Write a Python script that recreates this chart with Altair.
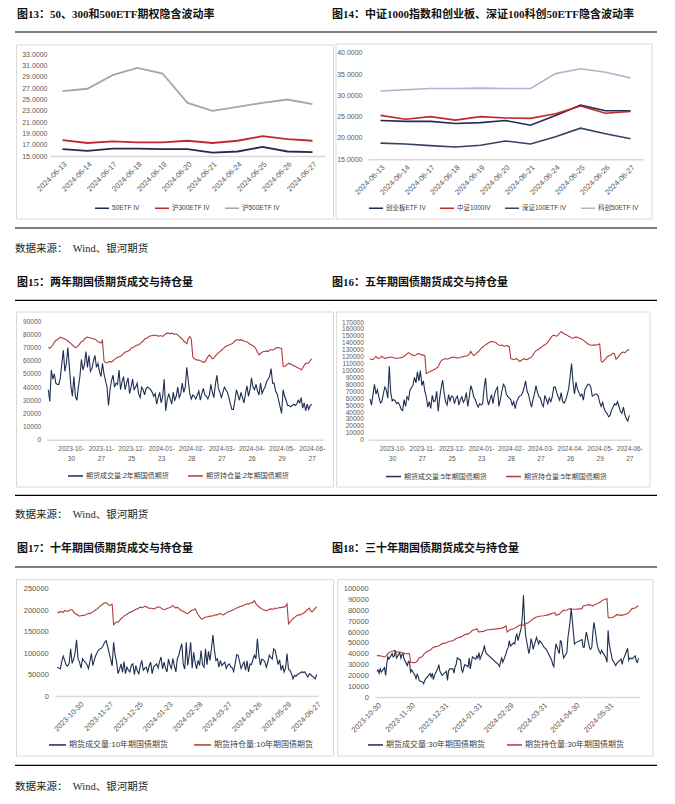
import json
import pandas as pd
import altair as alt

# ---------------- data ----------------
IV_DATES = ["2024-06-13", "2024-06-14", "2024-06-17", "2024-06-18", "2024-06-19", "2024-06-20",
            "2024-06-21", "2024-06-24", "2024-06-25", "2024-06-26", "2024-06-27"]
IV_50ETF = [16.2, 15.9, 16.3, 16.3, 16.2, 16.2, 15.6, 15.8, 16.6, 15.8, 15.7]
IV_300ETF = [17.8, 17.3, 17.6, 17.4, 17.4, 17.7, 17.3, 17.7, 18.5, 18.0, 17.7]
IV_500ETF = [26.5, 26.9, 29.3, 30.6, 29.6, 24.4, 23.0, 23.7, 24.4, 25.0, 24.2]

IV_CYB = [24.1, 23.9, 23.9, 23.4, 23.6, 24.1, 23.0, 25.3, 27.7, 26.4, 26.4]
IV_ZZ1000 = [25.3, 24.4, 25.0, 24.2, 25.0, 24.7, 24.6, 25.7, 27.5, 25.8, 26.25]
IV_SZ100 = [18.8, 18.6, 18.2, 17.9, 18.3, 19.3, 18.6, 20.3, 22.3, 21.0, 19.8]
IV_KC50 = [31.0, 31.3, 31.6, 31.6, 31.7, 31.6, 31.6, 35.1, 36.25, 35.4, 34.1]

# bond futures, thousands of lots, one value per trading day 2023-10-09 .. 2024-06-27
VOL2 = [38, 29, 53, 46, 50, 43, 42, 42, 47, 58, 68, 52, 58, 70, 55, 41, 33, 48, 33, 30,
        40, 48, 61, 53, 57, 67, 55, 64, 52, 54, 60, 64, 55, 58, 52, 48, 58, 50, 45, 40,
        26, 38, 45, 49, 40, 43, 42, 53, 38, 44, 48, 38, 43, 47, 35, 40, 46, 38, 40, 43,
        35, 32, 40, 38, 34, 39, 40, 39, 38, 36, 33, 35, 27, 32, 36, 28, 33, 46, 22, 30,
        35, 31, 27, 36, 30, 33, 40, 32, 35, 43, 36, 40, 55, 45, 35, 31, 34, 33, 31, 34,
        37, 30, 35, 39, 34, 33, 31, 34, 42, 36, 32, 42, 49, 39, 36, 32, 36, 40, 38, 36,
        32, 27, 23, 23, 30, 38, 34, 30, 36, 32, 28, 35, 41, 33, 38, 47, 40, 38, 42, 37,
        34, 43, 35, 38, 40, 44, 46, 48, 54, 43, 43, 37, 35, 30, 25, 20, 38, 33, 30, 26,
        26, 25, 26, 27, 26, 27, 30, 28, 32, 24, 28, 22, 27, 23, 26, 27]
OI2 = [70, 69.5, 70.5, 72, 74, 75.5, 76, 77, 78, 77.5, 77, 76.5, 76, 75, 74, 73, 72, 71, 70, 70.5,
       71.5, 73, 74.5, 75, 76.5, 77.5, 78, 77.5, 77.5, 77, 76.5, 76.5, 75.5, 74.5, 74, 73.5, 75.5, 60, 58.5, 58.5,
       59, 59.5, 59, 60, 61, 62, 62.5, 63, 63.5, 64.5, 65.5, 66.5, 67, 67.5, 68, 69.5, 70, 70.5, 71.5, 72,
       72, 73, 74, 75, 76.5, 77, 77.5, 78.5, 79, 79, 79.5, 79, 79.5, 78.5, 79, 79, 78.5, 79.5, 80.5, 81,
       81, 80.5, 81, 80.5, 80, 80.5, 79.5, 78.5, 77.5, 76.5, 75, 74, 73, 77, 78.5, 76.5, 63, 61.5, 61, 60.5,
       60.5, 60, 59.5, 59, 59, 61, 63, 64.5, 63, 61.5, 62, 63.5, 65, 66, 67, 68, 69, 70, 71, 71.5,
       72, 72.5, 73, 74, 75, 76, 76, 75.5, 76, 75.5, 75, 74.5, 74.5, 73.5, 72.5, 72, 71.5, 70.5, 69, 66.5,
       64.5, 65.5, 66.5, 67, 67, 67.5, 67, 68, 68.5, 68, 68.5, 69.5, 70, 70, 69.5, 69.5, 56, 55.5, 56.5, 57.5,
       58, 57.5, 57, 56, 56, 55, 54.5, 54, 53, 54.5, 56.5, 58, 58, 58.5, 60, 61.5]
VOL5 = [59, 50, 65, 80, 66, 72, 62, 53, 55, 66, 76, 72, 60, 106, 68, 56, 58, 56, 52, 54,
        50, 44, 42, 58, 48, 62, 58, 72, 75, 79, 90, 82, 98, 85, 100, 78, 85, 70, 62, 47,
        55, 45, 64, 55, 56, 70, 41, 60, 75, 86, 68, 55, 50, 65, 56, 63, 62, 52, 60, 63,
        50, 58, 62, 54, 58, 68, 48, 62, 78, 72, 62, 58, 52, 47, 52, 50, 52, 75, 89, 60,
        50, 58, 65, 52, 65, 72, 76, 48, 58, 70, 80, 77, 66, 62, 60, 58, 50, 55, 45, 55,
        60, 63, 64, 68, 75, 85, 70, 65, 55, 47, 58, 66, 78, 68, 62, 60, 52, 48, 64, 58,
        52, 60, 55, 62, 76, 76, 68, 62, 57, 68, 55, 53, 57, 64, 73, 90, 110, 83, 66, 83,
        73, 68, 63, 66, 57, 72, 76, 80, 80, 76, 63, 64, 66, 66, 63, 54, 48, 54, 45, 40,
        38, 33, 35, 43, 47, 52, 50, 55, 48, 41, 38, 47, 36, 30, 27, 35]
OI5 = [117, 116, 115.5, 118, 120.5, 118, 117, 118.5, 120.5, 119, 117, 118, 118.5, 119, 119.5, 119, 118, 118, 117.5, 118,
       118, 118.5, 119, 120.5, 122, 124, 125.8, 124, 123, 122, 121.5, 122.5, 124, 124.3, 123, 122, 122.5, 121.5, 95.5, 96.5,
       98, 99, 100, 101, 102, 103.5, 105, 110, 114, 115.5, 116.5, 117, 116.5, 117, 118, 118.5, 119.5, 119, 118.5, 118,
       118, 119, 119.5, 120, 120.5, 121, 121.5, 124, 127.5, 124, 121.5, 123, 125, 127, 129.5, 132, 133.5, 135.5, 137, 138.5,
       140, 141, 142, 141.5, 141, 140, 138, 136.5, 136, 137, 135.5, 135, 136, 135.5, 134, 117, 116.5, 115.5, 116.5, 117,
       115, 113, 114.5, 116, 117, 116, 115.5, 117, 118, 119.5, 122, 126, 128.5, 129.5, 131, 132.5, 134, 136, 137, 138.5,
       141, 144, 147, 150, 151, 150, 149.5, 151.5, 154, 156, 154.5, 153, 152, 151, 149.5, 148.5, 147, 146.5, 147.5, 148.5,
       148, 147, 146, 145, 143.5, 142, 140, 138.5, 137, 136.5, 136.5, 137, 136.5, 137, 137.5, 138.5, 113, 112, 114.5, 117,
       119.5, 121, 122, 123, 125, 124, 116.5, 118, 121, 124, 126, 126.5, 125.5, 128, 129.5, 130.5]
VOL10 = [67, 65, 63, 80, 93, 83, 72, 70, 76, 110, 76, 86, 100, 131, 87, 79, 65, 87, 82, 78,
         73, 64, 80, 99, 71, 84, 95, 102, 108, 110, 112, 118, 125, 129, 115, 100, 86, 70, 125, 95,
         79, 52, 62, 75, 55, 80, 52, 67, 60, 56, 72, 75, 50, 71, 58, 52, 70, 83, 60, 65,
         67, 56, 70, 79, 52, 68, 71, 75, 65, 80, 91, 63, 79, 65, 56, 86, 72, 64, 87, 70,
         56, 87, 95, 110, 122, 73, 63, 125, 71, 95, 125, 65, 102, 78, 63, 83, 71, 106, 73, 67,
         110, 73, 104, 83, 110, 142, 107, 83, 87, 67, 83, 71, 75, 79, 64, 72, 75, 68, 66, 57,
         75, 96, 95, 80, 64, 72, 79, 60, 82, 56, 75, 73, 85, 95, 87, 133, 95, 72, 86, 84,
         80, 67, 78, 95, 90, 86, 110, 106, 90, 73, 84, 60, 72, 56, 65, 99, 62, 60, 52, 40,
         48, 46, 50, 52, 54, 56, 55, 56, 50, 44, 52, 50, 46, 44, 40, 50]
OI10 = [196, 194, 197, 196, 195, 199, 198, 197, 199, 201, 201, 196, 192, 190, 188, 186, 187, 188, 187, 189,
        191, 192, 192, 194, 196, 198, 201, 203, 206, 210, 212, 215, 217, 217, 214, 211, 212, 214, 166, 170,
        173, 172, 176, 180, 183, 186, 189, 190, 193, 195, 196, 198, 200, 202, 203, 205, 207, 206, 207, 209,
        208, 206, 204, 205, 204, 203, 204, 206, 208, 207, 205, 203, 201, 202, 204, 205, 206, 208, 211, 207,
        205, 207, 204, 201, 199, 197, 195, 193, 192, 195, 198, 200, 201, 203, 196, 190, 185, 180, 179, 182,
        184, 184, 185, 186, 186, 187, 188, 189, 189, 191, 192, 190, 189, 191, 193, 196, 197, 198, 200, 201,
        203, 205, 206, 208, 209, 210, 212, 213, 215, 214, 216, 217, 218, 222, 215, 211, 208, 205, 203, 201,
        200, 199, 200, 202, 203, 202, 203, 205, 204, 205, 206, 206, 207, 207, 209, 215, 168, 172, 176, 180,
        183, 186, 188, 189, 189, 191, 193, 195, 199, 202, 205, 198, 196, 200, 204, 208]
# 30-year futures start 2023-10-30
VOL30 = [23.7, 25, 22, 26, 23, 27, 20, 30, 37, 35, 40, 37, 38, 43, 36, 41, 36, 39, 40, 35,
         29, 33, 32, 23, 25, 20, 17, 21, 19, 15, 14, 12.3, 15, 17, 18, 21.6, 18.5, 22, 16, 20,
         26, 30, 24, 22, 20, 23.7, 15.4, 24, 26, 26, 22, 28, 30, 36, 34, 25, 23, 27, 30, 28,
         36, 26, 32, 37, 35, 38, 36, 41, 35, 43, 47.7, 42, 40, 30, 28, 33, 36, 32, 40, 44,
         46, 52, 47, 50, 49, 56, 58, 52, 64, 75, 94, 70, 57, 40, 45, 54, 50, 44, 55, 52,
         49, 52, 51, 46, 45, 44, 34, 30, 28, 41, 49, 40, 52, 51, 42, 36, 41, 55, 62, 70,
         82, 49, 50, 53, 46, 46, 54, 60, 45, 44, 46, 60, 69, 48, 44, 42, 40, 43, 38, 36,
         32, 61.6, 49, 34, 33, 31, 29, 31, 35, 30, 35, 37, 45, 34, 36, 36, 35, 38, 33, 32, 36]
OI30 = [38.5, 38, 38.3, 38, 37.8, 37, 37.5, 38.5, 40, 41, 42.2, 42.5, 43.1, 42.5, 41.6, 41.5, 41.3, 41, 40.5, 40.3,
        40, 40.2, 40, 32.3, 31.8, 31.7, 32.2, 33, 34.5, 36, 37.5, 39.1, 40, 41, 42, 43.1, 44, 45.3, 45.8, 46.3,
        46.8, 47.3, 47.7, 48.5, 49.3, 50, 50.8, 51.1, 51.4, 52, 52.6, 53.3, 54, 54.5, 55.3, 55.8, 56.3, 57, 57.6, 58.3,
        58.9, 59.4, 60.5, 61.6, 62.4, 63.1, 61, 60, 60.3, 60.6, 61, 61.4, 61.8, 63.1, 63.3, 63.5, 63.6, 63.7, 65.6, 60,
        60.8, 61.6, 62.4, 63.1, 63.6, 64.1, 64.6, 65.7, 66.8, 66.5, 66.2, 67, 67.7, 68.8, 69.9, 70.7, 71.5, 72.3, 73.9, 74.1,
        74.4, 74.6, 74.8, 75, 75.2, 75.4, 77, 77.3, 77.6, 77.9, 75.4, 76.5, 77.5, 78.5, 79.2, 80, 80.4, 80.8, 81.2, 81.6,
        81.3, 81, 81, 81.6, 84, 84.3, 84.5, 84.7, 85.3, 85, 84.5, 84, 85, 86.2, 86.7, 87.2, 87.7, 88.8, 90.2, 90.5,
        90.8, 73.9, 73, 73.4, 73.9, 74.6, 75.3, 76, 75.4, 75.6, 75.8, 76, 77, 78, 79.1, 80.3, 81.6, 82.1, 83.1, 83.6, 84]

HOLIDAYS = ["2024-01-01", "2024-02-09", "2024-02-12", "2024-02-13", "2024-02-14", "2024-02-15",
            "2024-02-16", "2024-04-04", "2024-04-05", "2024-05-01", "2024-05-02", "2024-05-03", "2024-06-10"]
TICK_IDX = [15, 35, 55, 75, 95, 115, 135, 155, 175]
TICK_LABELS = ["2023-10-30", "2023-11-27", "2023-12-25", "2024-01-23", "2024-02-28",
               "2024-03-27", "2024-04-26", "2024-05-29", "2024-06-27"]
TICK30_LABELS = ["2023-10-30", "2023-11-30", "2023-12-31", "2024-01-31", "2024-02-29",
                 "2024-03-31", "2024-04-30", "2024-05-31"]

NAMES_A = ["50ETF IV", "沪300ETF IV", "沪500ETF IV"]
NAMES_B = ["创业板ETF IV", "中证1000IV", "深证100ETF IV", "科创50ETF IV"]
TITLES = ["图13：50、300和500ETF期权隐含波动率",
          "图14：中证1000指数和创业板、深证100科创50ETF隐含波动率",
          "图15：两年期国债期货成交与持仓量",
          "图16：五年期国债期货成交与持仓量",
          "图17：十年期国债期货成交与持仓量",
          "图18：三十年期国债期货成交与持仓量"]
SOURCE = "数据来源：\u00a0\u00a0Wind、银河期货"

# ---------------- styles ----------------
SANS = "Liberation Sans, Noto Sans CJK SC, sans-serif"
SERIF = "Liberation Serif, Noto Sans CJK SC, serif"
NAVY = "#1f2d50"
RED = "#c0282d"
DRED = "#b23a3a"
GREY = "#a6a6a6"
NAVY2 = "#34445f"
LBLUE = "#a9b8cd"
BOXC = "#d9d9d9"
AXC = "#d9d9d9"
LABC = "#595959"
LEGC = "#404040"

trade_days = [d for d in pd.bdate_range("2023-10-09", "2024-06-27")
              if d.strftime("%Y-%m-%d") not in HOLIDAYS]
base30 = pd.Timestamp("2023-10-30")
D30 = [(d - base30).days for d in trade_days[-len(VOL30):]]
TICK30_D = [(pd.Timestamp(s) - base30).days for s in TICK30_LABELS]

ONE = pd.DataFrame({"k": [0]})


def deco(W, H, title, tx, ty, rx0, rx1, rtop, rbot, box, src=None):
    b = alt.Chart(ONE)
    out = [
        b.mark_rect(opacity=0).encode(x=alt.value(0), x2=alt.value(W), y=alt.value(0), y2=alt.value(H)),
        b.mark_rect(fillOpacity=0, stroke=BOXC, strokeWidth=1).encode(
            x=alt.value(box[0]), x2=alt.value(box[1]), y=alt.value(box[2]), y2=alt.value(box[3])),
        b.mark_rule(color="#000000", strokeWidth=1.2).encode(
            x=alt.value(rx0), x2=alt.value(rx1), y=alt.value(rtop)),
        b.mark_rule(color="#000000", strokeWidth=1.2).encode(
            x=alt.value(rx0), x2=alt.value(rx1), y=alt.value(rbot)),
        b.mark_text(align="left", baseline="middle", font=SERIF, fontSize=11, fontWeight="bold",
                    color="#111111").encode(x=alt.value(tx), y=alt.value(ty), text=alt.value(title)),
    ]
    if src is not None:
        out.append(b.mark_text(align="left", baseline="middle", font=SERIF, fontSize=10.5,
                               color="#222222").encode(x=alt.value(src[0]), y=alt.value(src[1]),
                                                       text=alt.value(SOURCE)))
    return out


def yaxis(values, fmt, off, pad, size):
    return alt.Axis(values=values, format=fmt, offset=off, labelPadding=pad, ticks=False, domain=False,
                    grid=False, title=None, labelFontSize=size, labelFont=SANS, labelColor=LABC,
                    labelOverlap=False)


def xaxis(off, size, pad, angle=0, **kw):
    return alt.Axis(offset=off, ticks=False, grid=False, title=None, domainColor=AXC, domainWidth=1.5,
                    labelFontSize=size, labelFont=SANS, labelColor=LABC, labelPadding=pad,
                    labelAngle=angle, labelOverlap=False, labelFlush=False, **kw)


def legend(x, y, size, sym, colpad, sw=1.5):
    return alt.Legend(orient="none", legendX=x, legendY=y, direction="horizontal", title=None,
                      symbolType="stroke", symbolSize=sym * sym, symbolStrokeWidth=sw,
                      labelFontSize=size, labelFont=SANS, labelColor=LEGC, columnPadding=colpad,
                      labelOffset=2, padding=0)


def long_df(key, xs, series, names):
    rows = {"x": [], "v": [], "s": []}
    for vals, n in zip(series, names):
        rows["x"] += list(xs)
        rows["v"] += list(vals)
        rows["s"] += [n] * len(vals)
    return pd.DataFrame(rows).rename(columns={"x": key})


def lookup(values, labels):
    return f"{json.dumps(labels)}[indexof({json.dumps(values)}, datum.value)]"


# ---------------- panel A ----------------
dfA = long_df("date", IV_DATES, [IV_50ETF, IV_300ETF, IV_500ETF], NAMES_A)
lineA = alt.Chart(dfA).mark_line(strokeWidth=1.8).encode(
    x=alt.X("date:O", scale=alt.Scale(domain=IV_DATES, range=[42, 317], padding=0.5),
            axis=xaxis(-122, 7.5, 4, -45)),
    y=alt.Y("v:Q", scale=alt.Scale(domain=[15, 33], range=[146, 44.3], nice=False, zero=False),
            axis=yaxis(list(range(15, 34, 2)), ".4f", -42, 3, 7)),
    color=alt.Color("s:N", scale=alt.Scale(domain=NAMES_A, range=[NAVY, RED, GREY]),
                    legend=legend(86, 190, 6.5, 14, 12)),
)
A = alt.layer(*deco(327, 268, TITLES[0], 9, 4.5, 7, 327, 22, 218, (8.5, 325.5, 35, 209), (7, 239)),
              lineA).properties(width=327, height=268)

# ---------------- panel B ----------------
dfB = long_df("date", IV_DATES, [IV_CYB, IV_ZZ1000, IV_SZ100, IV_KC50], NAMES_B)
lineB = alt.Chart(dfB).mark_line(strokeWidth=1.6).encode(
    x=alt.X("date:O", scale=alt.Scale(domain=IV_DATES, range=[33, 308], padding=0.5),
            axis=xaxis(-118.7, 7.5, 4, -45)),
    y=alt.Y("v:Q", scale=alt.Scale(domain=[15, 40], range=[149.3, 42.7], nice=False, zero=False),
            axis=yaxis(list(range(15, 41, 5)), ".4f", -33, 6, 7)),
    color=alt.Color("s:N", scale=alt.Scale(domain=NAMES_B, range=[NAVY, RED, NAVY2, LBLUE]),
                    legend=legend(33, 190, 6.5, 14, 11)),
)
B = alt.layer(*deco(330, 268, TITLES[1], -3, 4.5, 0, 322, 22, 218, (1, 317, 34, 209)),
              lineB).properties(width=330, height=268)


# ---------------- bond panels ----------------
def bond_panel(W, H, title, tx, ty, rx0, rx1, rtop, rbot, box, src, key, xs, vol, oi, names,
               xdom, xrng, xaxis_obj, ymax, ystep, yrng, yoff, ypad, ysize, leg):
    df = long_df(key, xs, [[v * 1000 for v in vol], [v * 1000 for v in oi]], names)
    line = alt.Chart(df).mark_line(strokeWidth=1.1).encode(
        x=alt.X(f"{key}:Q", scale=alt.Scale(domain=xdom, range=xrng, nice=False, zero=False),
                axis=xaxis_obj),
        y=alt.Y("v:Q", scale=alt.Scale(domain=[0, ymax], range=yrng, nice=False, zero=False),
                axis=yaxis(list(range(0, ymax + 1, ystep)), "d", yoff, ypad, ysize)),
        color=alt.Color("s:N", scale=alt.Scale(domain=names, range=[NAVY, DRED]), legend=leg),
    )
    return alt.layer(*deco(W, H, title, tx, ty, rx0, rx1, rtop, rbot, box, src), line).properties(
        width=W, height=H)


IDX = list(range(len(VOL2)))
LK = lookup(TICK_IDX, TICK_LABELS)
TWO_LINE = f"[slice({LK}, 0, 8), slice({LK}, 8)]"

C = bond_panel(327, 267, TITLES[2], 9, 5, 7, 327, 22.3, 217.3, (8.5, 325.5, 34, 209), (7, 237.3),
               "i", IDX, VOL2, OI2, ["期货成交量:2年期国债期货", "期货持仓量:2年期国债期货"],
               [-1.06, 182.5], [38.7, 315],
               xaxis(-105.3, 6.5, 6, 0, values=TICK_IDX, labelExpr=TWO_LINE, labelLineHeight=10),
               90000, 10000, [161.7, 43.3], -38.7, 6, 6.5,
               legend(59, 189.2, 7, 15, 16))

D = bond_panel(330, 267, TITLES[3], -3, 5, 0, 322, 22.3, 217.3, (1.7, 315, 34, 209), None,
               "i", IDX, VOL5, OI5, ["期货成交量:5年期国债期货", "期货持仓量:5年期国债期货"],
               [-1.15, 176.6], [33.3, 296.7],
               xaxis(-105.3, 6.5, 6, 0, values=TICK_IDX, labelExpr=TWO_LINE, labelLineHeight=10),
               170000, 10000, [161.7, 44], -33.3, 5, 6.5,
               legend(50, 189.8, 7, 15, 16))

E = bond_panel(327, 255, TITLES[4], 9, 4.3, 7, 327, 22, 220.3, (8.5, 325.5, 34.7, 211), (7, 242),
               "i", IDX, VOL10, OI10, ["期货成交量:10年期国债期货", "期货持仓量:10年期国债期货"],
               [-1.55, 176.1], [47, 310.3],
               xaxis(-104, 7.5, 4, -45, values=TICK_IDX, labelExpr=LK),
               250000, 50000, [151, 43.7], -47, 6.7, 7.5,
               legend(40, 190.2, 8, 17, 22))

F = bond_panel(330, 255, TITLES[5], -3, 4.3, 0, 322, 22, 220.3, (2.7, 318, 34.7, 211), None,
               "d", D30, VOL30, OI30, ["期货成交量:30年期国债期货", "期货持仓量:30年期国债期货"],
               [-1.8, 242.4], [40, 305],
               xaxis(-103, 7.5, 4, -45, values=TICK30_D, labelExpr=lookup(TICK30_D, TICK30_LABELS)),
               100000, 10000, [152, 43.7], -40, 6.7, 7.5,
               legend(32, 191.2, 8, 15, 18))

chart = (
    alt.concat(A, B, C, D, E, F, columns=2, spacing=0, bounds="flush", align="each")
    .resolve_scale(color="independent")
    .resolve_legend(color="independent")
    .properties(padding=0)
    .configure_view(stroke=None)
)

chart.save("out.html", embed_options={"renderer": "svg", "actions": False})
